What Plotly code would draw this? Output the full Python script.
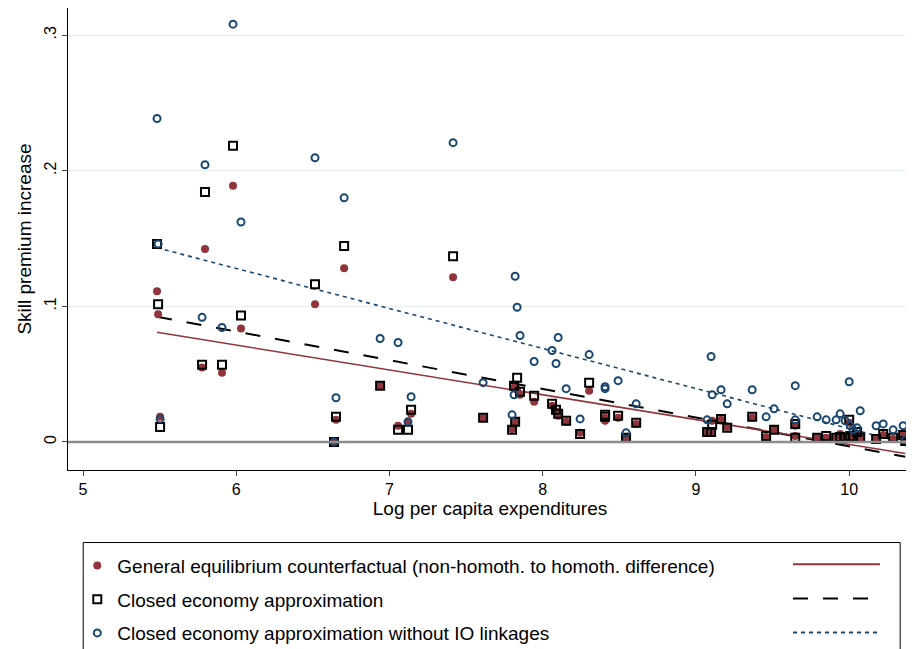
import numpy as np
import plotly.graph_objects as go

# pixel-read values converted to data
px = [157,158,160,202,205,222,233,241,315,336,334,344,380,398,408,411,453,483,512,515,517,520,514,534,
      552,556,558,566,580,589,605,605,618,626,636,711,712,707,721,727,752,766,774,795,795,817,826,836,840,845,849,850,853,857,860,876,883,893,903,905]
red_py = [290,313,415,366,248,371,185,327,303,418,440,267,384,424,420,412,276,416,427,420,388,393,386,400,
          404,410,414,420,431,389,416,419,416,436,422,430,419,430,418,425,416,435,428,424,434,436,436,436,432,437,421,434,436,432,436,437,433,437,432,440]
sq_py = [243,303,425,363,191,363,145,314,283,415,440,245,384,428,428,408,255,416,428,420,376,390,384,394,
         402,408,412,419,432,381,415,413,414,436,421,430,423,430,417,426,415,434,428,422,436,436,434,436,435,436,418,434,435,430,436,437,432,436,433,439]
circ_py = [118,243,417,316,164,326,24,221,157,396,440,197,337,341,420,395,142,381,413,275,306,334,393,360,
           349,362,336,387,417,353,385,387,379,431,402,355,393,418,388,402,388,415,407,384,418,415,418,418,412,419,380,424,428,426,409,424,422,428,424,438]

log_exp = [round(5 + (p - 83) / 153.2, 3) for p in px]
ge = [round((440 - v) / 1350, 4) for v in red_py]
closed = [round((440 - v) / 1350, 4) for v in sq_py]
closed_noio = [round((440 - v) / 1350, 4) for v in circ_py]

RED = "#90353B"
NAVY = "#1A476F"
x = np.array(log_exp)
xs = np.array([x.min(), x.max()])

fig = go.Figure()
for yv, col, dash in [(closed_noio, NAVY, "4px,4px"), (closed, "black", "longdash"), (ge, RED, "solid")]:
    b, a = np.polyfit(x, np.array(yv), 1)
    fig.add_trace(go.Scatter(x=xs, y=a + b * xs, mode="lines", showlegend=False,
                             line=dict(color=col, width=2 if dash == "longdash" else 1.6, dash=dash)))

fig.add_trace(go.Scatter(x=log_exp, y=ge, mode="markers", legendgroup="a",
                         name="General equilibrium counterfactual (non-homoth. to homoth. difference)",
                         marker=dict(color=RED, size=8)))
fig.add_trace(go.Scatter(x=log_exp, y=closed, mode="markers", legendgroup="b", name="Closed economy approximation",
                         marker=dict(symbol="square-open", color="black", size=8, line=dict(width=2))))
fig.add_trace(go.Scatter(x=log_exp, y=closed_noio, mode="markers", legendgroup="c",
                         name="Closed economy approximation without IO linkages",
                         marker=dict(symbol="circle-open", color=NAVY, size=7, line=dict(width=2))))

shapes = [dict(type="line", xref="paper", yref="y", x0=0, x1=1, y0=0, y1=0, line=dict(color="#8c8c8c", width=2.5))]
for yy, col, dash in [(-0.204, RED, "solid"), (-0.278, "black", "longdash"), (-0.352, NAVY, "4px,4px")]:
    shapes.append(dict(type="line", xref="paper", yref="paper", x0=0.859, x1=0.962, y0=yy, y1=yy,
                       line=dict(color=col, width=2, dash=dash)))
shapes.append(dict(type="rect", xref="paper", yref="paper", x0=0.018, x1=0.986, y0=-0.157, y1=-0.39,
                   line=dict(color="black", width=1)))

fig.update_layout(
    width=906, height=645, plot_bgcolor="white", paper_bgcolor="white",
    margin=dict(l=60, r=2, t=0, b=181),
    font=dict(family="Liberation Sans, Arial", size=16, color="black"),
    shapes=shapes,
    legend=dict(x=0.011, y=-0.166, xanchor="left", yanchor="top", bgcolor="rgba(0,0,0,0)",
                font=dict(size=19), tracegroupgap=6),
    xaxis=dict(range=[4.902, 10.41], tickvals=[5, 6, 7, 8, 9, 10], ticks="outside", ticklen=5,
               automargin=False, showgrid=False, zeroline=False, showline=True, linecolor="black",
               title=dict(text="Log per capita expenditures", standoff=4)),
    yaxis=dict(range=[-0.0207, 0.32], tickvals=[0, 0.1, 0.2, 0.3], ticktext=["0", ".1", ".2", ".3"],
               tickangle=-90, ticks="outside", ticklen=5, showgrid=True, gridcolor="#e6edf0",
               automargin=False, zeroline=False, showline=True, linecolor="black",
               title=dict(text="Skill premium increase", standoff=4)),
)
fig.write_html("out.html")
